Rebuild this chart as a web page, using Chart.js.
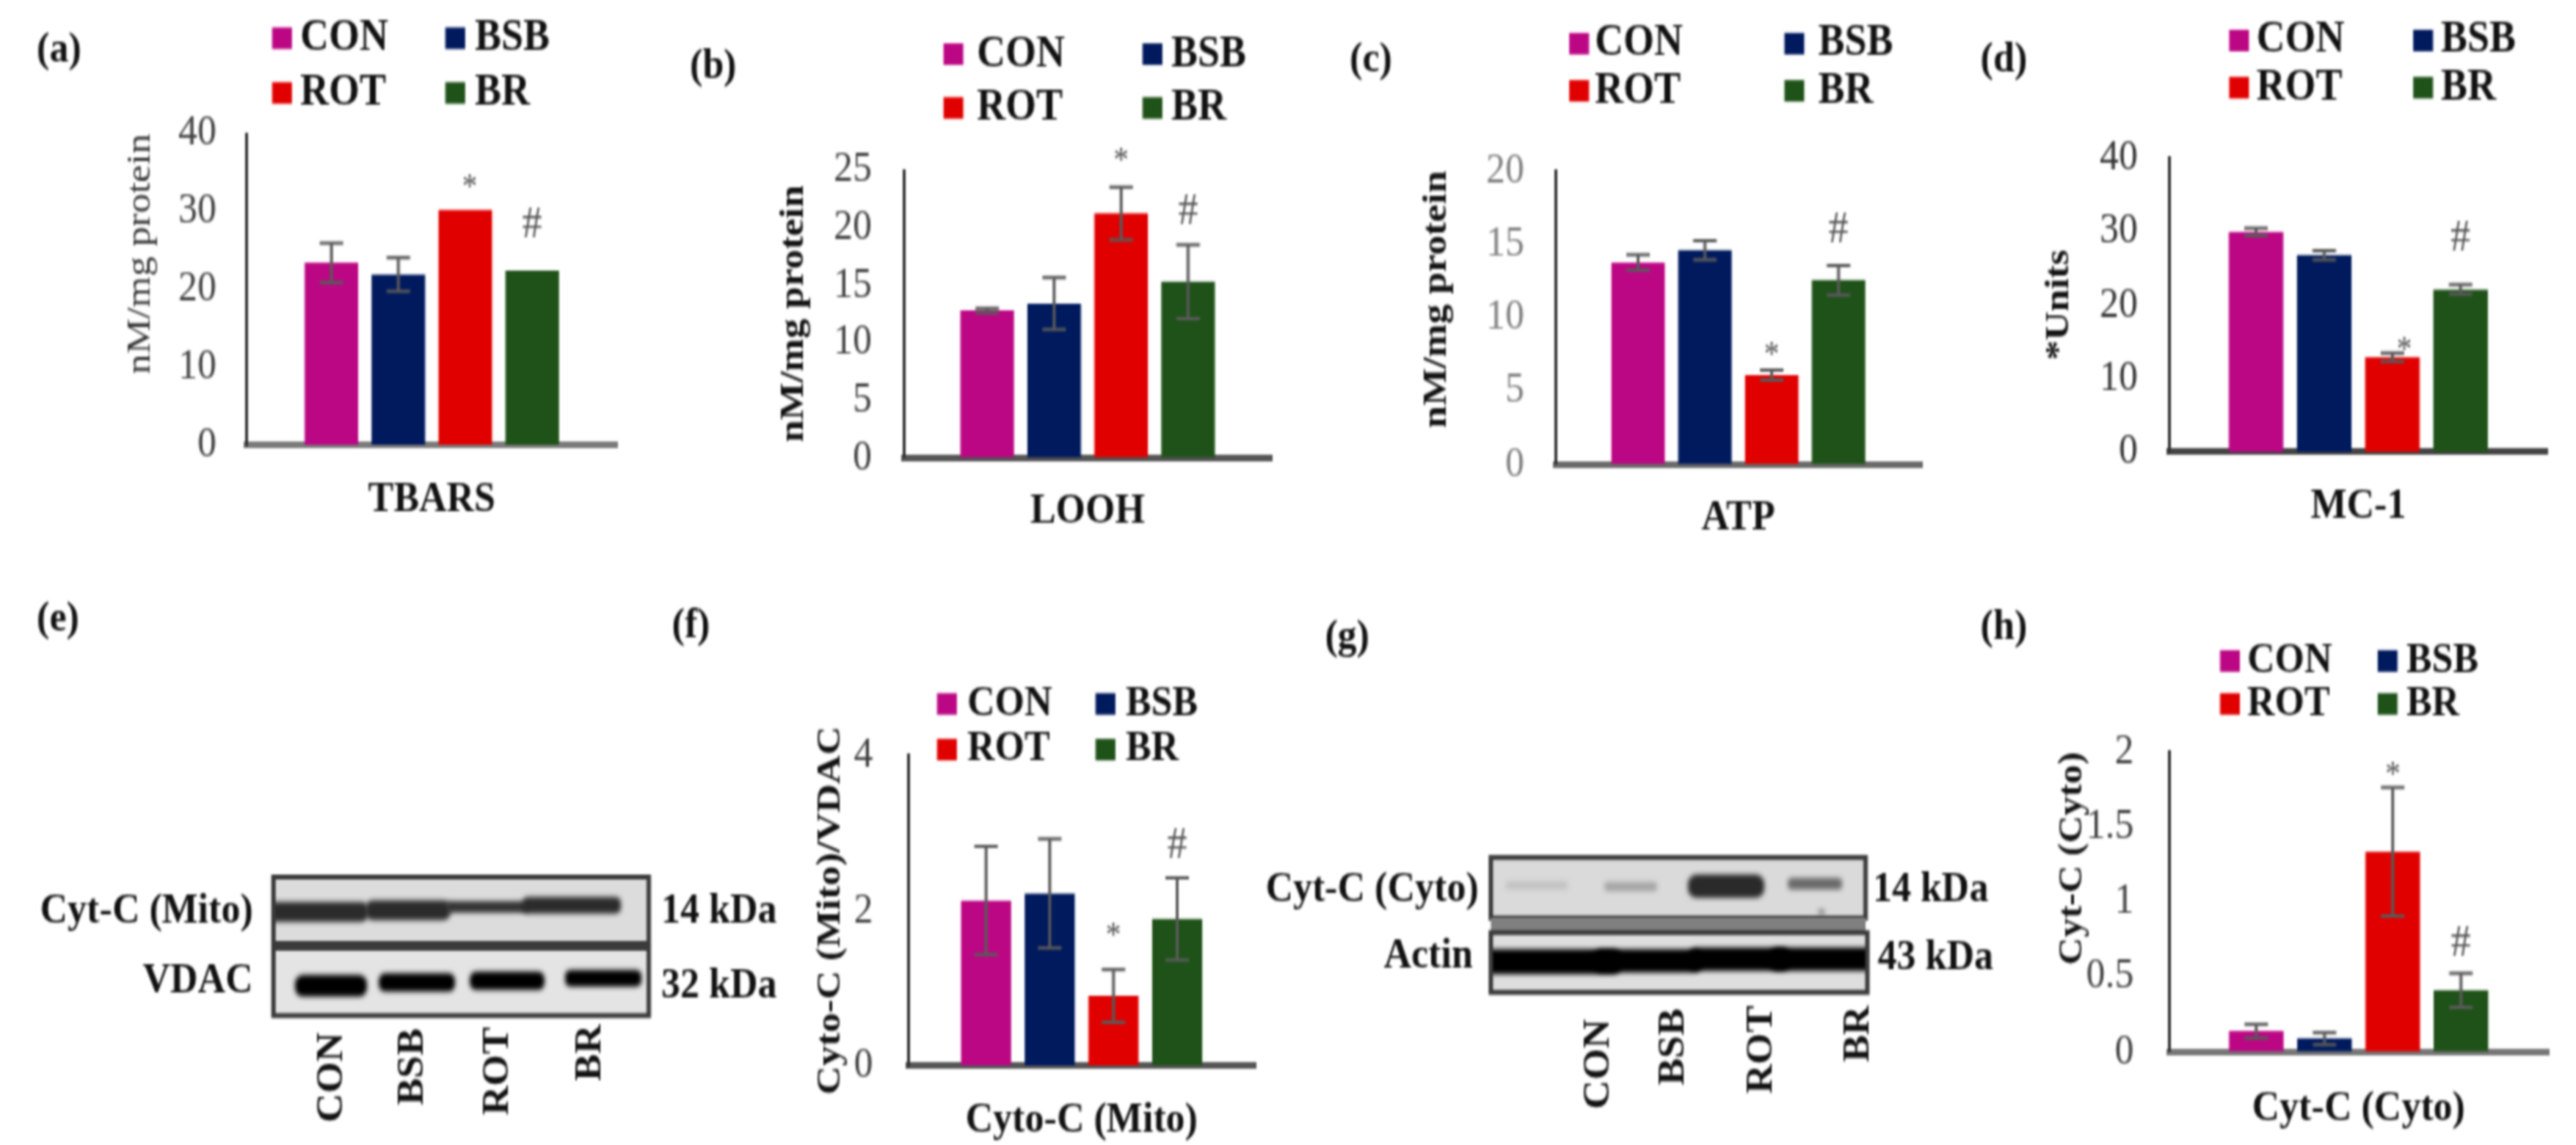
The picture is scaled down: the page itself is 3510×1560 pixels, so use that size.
<!DOCTYPE html>
<html>
<head>
<meta charset="utf-8">
<title>Mitochondrial markers</title>
<script src="https://cdn.jsdelivr.net/npm/chart.js@4"></script>
<style>
  html, body { margin: 0; padding: 0; background: #fff; overflow: hidden; }
  /* the figure is an upscaled, slightly stretched bitmap, so draw small and scale up */
  #stage { position: absolute; left: 0; top: 0; width: 1755px; height: 690px; transform: scale(2, 2.2609); transform-origin: 0 0; filter: blur(0.6px); }
  #stage canvas { position: absolute; }
</style>
</head>
<body>
<div id="stage"><canvas id="blots" width="1755" height="690" style="left:0;top:0"></canvas></div>
<script>
// ======================
// DATA
// ======================
const groups = ['CON', 'BSB', 'ROT', 'BR'];
const groupColors = ['#BC0784', '#001A5E', '#E10000', '#1F5219'];

const tbarsValues = [23.4, 21.9, 30.2, 22.4];
const tbarsErrors = [2.55, 2.15, 0, 0];
const tbarsTicks = [0, 10, 20, 30, 40];

const loohValues = [12.8, 13.4, 21.25, 15.3];
const loohErrors = [0.2, 2.25, 2.3, 3.2];
const loohTicks = [0, 5, 10, 15, 20, 25];

const atpValues = [13.75, 14.6, 6.08, 12.55];
const atpErrors = [0.52, 0.65, 0.35, 1.0];
const atpTicks = [0, 5, 10, 15, 20];

const mc1Values = [29.9, 26.75, 12.9, 22.1];
const mc1Errors = [0.5, 0.6, 0.55, 0.65];
const mc1Ticks = [0, 10, 20, 30, 40];

const cytoMitoValues = [2.13, 2.22, 0.9, 1.89];
const cytoMitoErrors = [0.7, 0.705, 0.34, 0.53];
const cytoMitoTicks = [0, 2, 4];

const cytCytoValues = [0.137, 0.087, 1.334, 0.41];
const cytCytoErrors = [0.045, 0.04, 0.43, 0.113];
const cytCytoTicks = [0, 0.5, 1, 1.5, 2];

// ======================
// CHART SETUP
// ======================
const SERIF = '"Liberation Serif"';
Chart.defaults.font.family = SERIF;

// draws the error bars, the * / # marks and the 2x2 legend
const panelExtras = {
  id: 'panelExtras',
  afterDatasetsDraw(chart, args, p) {
    const ctx = chart.ctx;
    const y = chart.scales.y;
    ctx.save();
    chart.data.datasets.forEach((ds, i) => {
      const bar = chart.getDatasetMeta(i).data[0];
      const err = p.errors[i];
      if (err > 0) {
        const hi = y.getPixelForValue(ds.data[0] + err);
        const lo = y.getPixelForValue(ds.data[0] - err);
        ctx.strokeStyle = '#5a5a5a';
        ctx.lineWidth = 2;
        ctx.beginPath();
        ctx.moveTo(bar.x, hi); ctx.lineTo(bar.x, lo);
        ctx.moveTo(bar.x - 8, hi); ctx.lineTo(bar.x + 8, hi);
        ctx.moveTo(bar.x - 8, lo); ctx.lineTo(bar.x + 8, lo);
        ctx.stroke();
      }
    });
    // significance marks: ROT gets *, BR gets #
    ctx.fillStyle = '#555';
    ctx.textAlign = 'center';
    ctx.textBaseline = 'middle';
    [[2, '*', p.starAt, 21], [3, '#', p.hashAt, 27]].forEach(([i, sym, level, size]) => {
      const bar = chart.getDatasetMeta(i).data[0];
      ctx.font = size + 'px ' + SERIF;
      const dy = sym === '*' ? size * 0.17 : 0;
      ctx.fillText(sym, bar.x + (sym === '*' ? p.starDx || 0 : 0), y.getPixelForValue(level) + dy);
    });
    // legend
    ctx.textAlign = 'left';
    ctx.font = 'bold ' + p.legend.size + 'px ' + SERIF;
    chart.data.datasets.forEach((ds, i) => {
      const col = i % 2, row = i < 2 ? 0 : 1;
      const sx = p.legend.swatchX[col] - p.left;
      const ly = p.legend.rowY[row] - p.top;
      ctx.fillStyle = ds.backgroundColor;
      ctx.fillRect(sx, ly - 6.5, 13.5, 13);
      ctx.fillStyle = '#111';
      ctx.fillText(ds.label, p.legend.textX[col] - p.left, ly);
    });
    ctx.restore();
  }
};

function makePanel(cfg) {
  const titleLine = cfg.titleSize * 1.2;
  const left = cfg.titleX - titleLine / 2;
  const top = cfg.canvasTop;
  const width = cfg.axisRight - left + 10;
  const height = cfg.labelY + 26 - top;

  const canvas = document.createElement('canvas');
  canvas.width = width;
  canvas.height = height;
  canvas.style.left = left + 'px';
  canvas.style.top = top + 'px';
  document.getElementById('stage').appendChild(canvas);

  new Chart(canvas, {
    type: 'bar',
    data: {
      labels: [cfg.xLabel],
      datasets: groups.map((g, i) => ({
        label: g,
        data: [cfg.values[i]],
        backgroundColor: groupColors[i],
        categoryPercentage: cfg.catPct,
        barPercentage: cfg.barPct
      }))
    },
    options: {
      responsive: false,
      animation: false,
      devicePixelRatio: 1,
      layout: { padding: { top: cfg.plotTop - top, right: 10, left: 0, bottom: 0 } },
      plugins: {
        legend: { display: false },
        tooltip: { enabled: false },
        panelExtras: {
          errors: cfg.errors, starAt: cfg.starAt, hashAt: cfg.hashAt, starDx: cfg.starDx,
          legend: cfg.legend, left: left, top: top
        }
      },
      scales: {
        x: {
          grid: { display: false, drawTicks: false },
          border: { color: cfg.baseColor || '#6a6a6a', width: 4 },
          ticks: {
            color: '#111', maxRotation: 0,
            font: { size: cfg.labelSize || 26, weight: 'bold' },
            padding: cfg.labelY - cfg.plotBottom - 10.5
          },
          afterFit(s) { s.height = height - (cfg.plotBottom - top); }
        },
        y: {
          min: 0,
          max: cfg.ticks[cfg.ticks.length - 1],
          grid: { display: false, drawTicks: false },
          border: { color: '#333', width: 2 },
          afterBuildTicks(s) { s.ticks = cfg.ticks.map(v => ({ value: v })); },
          afterFit(s) { s.width = cfg.axisX - left; },
          ticks: {
            color: cfg.tickColor,
            font: { size: 26 },
            padding: cfg.tickPad,
            callback: v => String(v)
          },
          title: {
            display: true,
            text: cfg.yTitle,
            align: cfg.titleAlign,
            color: cfg.titleColor || '#111',
            padding: 0,
            font: { size: cfg.titleSize, weight: cfg.titleWeight || 'bold' }
          }
        }
      }
    },
    plugins: [panelExtras]
  });
}

// ======================
// PANELS
// ======================
makePanel({
  xLabel: 'TBARS', yTitle: 'nM/mg protein', values: tbarsValues, errors: tbarsErrors, ticks: tbarsTicks,
  canvasTop: 0, titleX: 95, titleSize: 24, titleWeight: 'normal', titleColor: '#333', titleAlign: 'end',
  axisX: 168, axisRight: 420, plotTop: 80.6, plotBottom: 268, labelY: 296,
  catPct: 0.725, barPct: 0.8, tickColor: '#404040', tickPad: 21, starAt: 33.8, hashAt: 28.2, starDx: 3, baseColor: '#7a7a7a',
  legend: { size: 27, rowY: [23, 56], swatchX: [185, 303], textX: [204, 323] }
});
makePanel({
  xLabel: 'LOOH', yTitle: 'nM/mg protein', values: loohValues, errors: loohErrors, ticks: loohTicks,
  canvasTop: 0, titleX: 540, titleSize: 24, titleAlign: 'center',
  axisX: 615.6, axisRight: 866, plotTop: 102.6, plotBottom: 275.7, labelY: 303,
  catPct: 0.73, barPct: 0.8, tickColor: '#404040', tickPad: 22, starAt: 26.3, hashAt: 21.3, baseColor: '#555',
  legend: { size: 27, rowY: [32.6, 65], swatchX: [642.4, 778], textX: [665, 797.5] }
});
makePanel({
  xLabel: 'ATP', yTitle: 'nM/mg protein', values: atpValues, errors: atpErrors, ticks: atpTicks,
  canvasTop: 0, titleX: 978.2, titleSize: 24, titleAlign: 'end',
  axisX: 1059.4, axisRight: 1309.5, plotTop: 103, plotBottom: 279.7, labelY: 307,
  catPct: 0.73, barPct: 0.8, tickColor: '#808080', tickPad: 21, starAt: 7.77, hashAt: 15.9, baseColor: '#6a6a6a',
  legend: { size: 27, rowY: [26.3, 54.7], swatchX: [1068.9, 1215.5], textX: [1086.2, 1238.5] }
});
makePanel({
  xLabel: 'MC-1', yTitle: '*Units', values: mc1Values, errors: mc1Errors, ticks: mc1Ticks,
  canvasTop: 0, titleX: 1401.9, titleSize: 24, titleAlign: 'center',
  axisX: 1477.9, axisRight: 1735.4, plotTop: 95, plotBottom: 272.4, labelY: 300,
  catPct: 0.724, barPct: 0.8, tickColor: '#333', tickPad: 22, starAt: 14.5, hashAt: 29, starDx: 8, baseColor: '#444',
  legend: { size: 27, rowY: [24.4, 52.8], swatchX: [1518.2, 1643.6], textX: [1536.7, 1662.6] }
});
makePanel({
  xLabel: 'Cyto-C (Mito)', yTitle: 'Cyto-C (Mito)/VDAC', values: cytoMitoValues, errors: cytoMitoErrors, ticks: cytoMitoTicks,
  canvasTop: 400, titleX: 565, titleSize: 24, titleAlign: 'center',
  axisX: 618.4, axisRight: 855, plotTop: 455.4, plotBottom: 642, labelY: 670,
  catPct: 0.735, barPct: 0.786, tickColor: '#404040', tickPad: 24, starAt: 1.73, hashAt: 2.83, baseColor: '#555',
  legend: { size: 26, rowY: [424.2, 451.7], swatchX: [638, 746], textX: [658.6, 766.6] }
});
makePanel({
  xLabel: 'Cyt-C (Cyto)', yTitle: 'Cyt-C (Cyto)', values: cytCytoValues, errors: cytCytoErrors, ticks: cytCytoTicks,
  canvasTop: 380, titleX: 1411.9, titleSize: 23, titleAlign: 'end',
  axisX: 1477.9, axisRight: 1736.5, plotTop: 453.1, plotBottom: 634.1, labelY: 663.4,
  catPct: 0.72, barPct: 0.8, tickColor: '#404040', tickPad: 24, starAt: 1.875, hashAt: 0.72, baseColor: '#777',
  legend: { size: 26, rowY: [398.3, 424.2], swatchX: [1512.6, 1620], textX: [1531.1, 1639.6] }
});

// ======================
// BLOTS + PANEL LETTERS (images in the original, not chart marks)
// ======================
const b = document.getElementById('blots').getContext('2d');

function text(str, x, y, size, align) {
  b.font = 'bold ' + size + 'px ' + SERIF;
  b.fillStyle = '#111';
  b.textAlign = align || 'left';
  b.textBaseline = 'middle';
  b.fillText(str, x, y);
}

function upText(str, x, y) {
  b.save();
  b.translate(x, y);
  b.rotate(-Math.PI / 2);
  text(str, 0, 0, 24.5, 'right');
  b.restore();
}

function blot(x, y, w, h, bg, bands) {
  b.fillStyle = bg;
  b.fillRect(x, y, w, h);
  b.save();
  b.beginPath();
  b.rect(x, y, w, h);
  b.clip();
  b.filter = 'blur(1.5px)';
  bands.forEach(([bx, by, bw, bh, col]) => {
    b.fillStyle = col;
    b.beginPath();
    b.roundRect(bx, by, bw, bh, bh / 2.5);
    b.fill();
  });
  b.restore();
  b.strokeStyle = '#3a3a3a';
  b.lineWidth = 3;
  b.strokeRect(x, y, w, h);
}

[['(a)', 25, 30], ['(b)', 470, 40], ['(c)', 919.5, 36.5], ['(d)', 1349.3, 36.5],
 ['(e)', 25, 373.4], ['(f)', 457.8, 376.8], ['(g)', 902.7, 384.7], ['(h)', 1349.3, 378.4]]
  .forEach(([s, x, y]) => text(s, x, y, 26));

// panel e
blot(186.3, 528.5, 255.7, 40, '#dcdcdc', [
  [180, 543.5, 71, 12, '#2b2b2b'], [249, 542.5, 58, 12, '#2b2b2b'],
  [304, 543, 56, 7, '#333'], [356, 540.5, 67, 10, '#2b2b2b']
]);
blot(186.3, 571.4, 255.7, 40.6, '#e4e4e4', [
  [201, 587.5, 49, 13, '#000'], [258, 586.5, 52, 11, '#000'],
  [320, 585.5, 51, 11, '#000'], [385, 584.5, 52, 10, '#000']
]);
text('Cyt-C (Mito)', 172.4, 549.5, 26, 'right');
text('VDAC', 172.4, 591, 26, 'right');
text('14 kDa', 450.5, 549.5, 26);
text('32 kDa', 450.5, 594, 26);
upText('CON', 226.6, 622);
upText('BSB', 281.5, 619.7);
upText('ROT', 340, 619);
upText('BR', 403, 617.4);

// panel g
blot(1015.7, 516.7, 255.3, 36.5, '#dadada', [
  [1026, 531, 42, 5, '#c2c2c2'], [1093, 531.5, 36, 5.5, '#a4a4a4'],
  [1150, 527, 52, 14, '#2a2a2a'], [1218, 529, 37, 7, '#6a6a6a'],
  [1239, 548, 4, 3, '#777']
]);
b.fillStyle = '#808080';
b.fillRect(1015.7, 553, 255.3, 9);
blot(1015.7, 562, 256.5, 36, '#dedede', [
  [1005, 572, 100, 15, '#000'], [1085, 572, 75, 14, '#000'],
  [1150, 571, 70, 14, '#000'], [1205, 571, 75, 14, '#000']
]);
text('Cyt-C (Cyto)', 1007.3, 536, 26, 'right');
text('Actin', 1003.4, 576.6, 26, 'right');
text('14 kDa', 1275.9, 536, 26);
text('43 kDa', 1279.3, 577.7, 26);
upText('CON', 1090, 614);
upText('BSB', 1140.5, 607.7);
upText('ROT', 1200.4, 606);
upText('BR', 1266.4, 606);
</script>
</body>
</html>
